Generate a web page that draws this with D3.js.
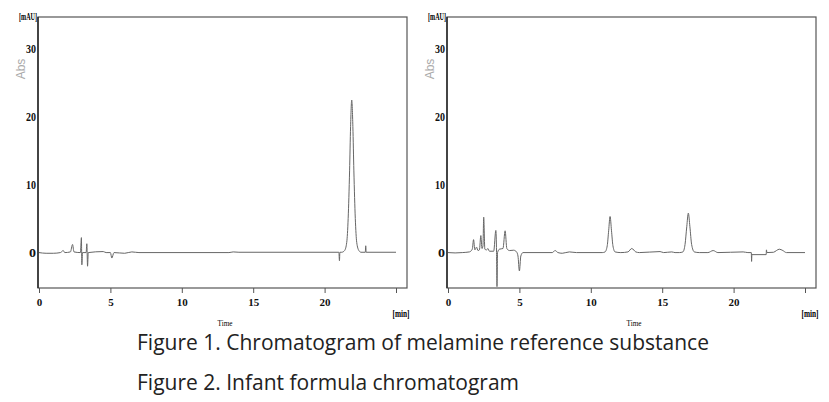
<!DOCTYPE html>
<html>
<head>
<meta charset="utf-8">
<script src="https://cdn.jsdelivr.net/npm/d3@7/dist/d3.min.js"></script>
<style>
  body { margin: 0; background: #fff; }
  svg { display: block; }
  .tick text { font-family: "Liberation Serif", serif; font-weight: bold; fill: #111; }
</style>
</head>
<body>
<div id="chart"></div>
<script>
// Tick labels
var xTicks = [0, 5, 10, 15, 20, 25];
var xTickLabels = ['0', '5', '10', '15', '20', ''];
var yTicks = [0, 10, 20, 30];
var yTickLabels = ['0', '10', '20', '30'];

// Figure 1: melamine reference substance (time in min, absorbance in mAU)
var refTime = [0, 0.5, 1.0, 1.5, 1.7, 1.8, 2.2, 2.35, 2.45, 2.9, 2.97, 3.0, 3.05,
  3.3, 3.35, 3.4, 3.45, 4.5, 4.7, 5.0, 5.1, 5.25, 6.0, 6.5, 7.0, 13.3, 13.6, 14.0,
  21.0, 21.04, 21.07, 21.2, 21.4, 21.55, 21.65, 21.75, 21.82, 21.9, 21.98, 22.05,
  22.15, 22.25, 22.4, 22.55, 22.85, 22.88, 22.91, 25];
var refAbs = [0, -0.1, -0.1, 0, 0.3, 0, 0.1, 1.2, 0.1, 0, 2.2, -1.8, 0,
  0, 1.3, -2.0, 0, 0.15, 0, 0, -0.8, 0, -0.1, 0.1, 0, 0, 0.1, 0.05,
  0.05, -1.2, 0.05, 0.05, 0.3, 1.5, 5, 12, 18.5, 22.4, 18.5, 12,
  5, 1.5, 0.3, 0.05, 0.05, 1.0, 0.05, 0.05];

// Figure 2: infant formula sample
var sampleTime = [0, 0.5, 1.0, 1.5, 1.7, 1.79, 1.88, 2.0, 2.1, 2.2, 2.3, 2.38, 2.45,
  2.5, 2.58, 2.7, 2.8, 2.9, 3.2, 3.35, 3.4, 3.43, 3.47, 3.6, 3.85, 4.0, 4.12, 4.3,
  4.6, 4.8, 4.9, 5.0, 5.1, 5.25, 7.3, 7.5, 7.7, 8.0, 8.5, 9.0, 10.8, 11.0, 11.15,
  11.25, 11.35, 11.45, 11.55, 11.7, 12.1, 12.6, 12.87, 13.15, 13.4, 14.85, 15.1,
  15.67, 15.9, 16.2, 16.45, 16.6, 16.72, 16.83, 16.94, 17.06, 17.25, 17.6, 18.2,
  18.57, 18.9, 20.67, 21.0, 21.24, 21.26, 21.28, 22.28, 22.3, 22.33, 22.8, 23.0,
  23.2, 23.45, 23.7, 25];
var sampleAbs = [0, -0.05, 0, 0.1, 0.5, 1.9, 0.4, 0.8, 0.3, 0.4, 2.5, 0.6, 1.0,
  5.2, 0.5, 0.4, 0.6, 0.2, 0.2, 3.25, 0, -5.0, 0, 0.5, 0.6, 3.2, 0.6, 0.3,
  0.35, 0.1, -0.5, -2.7, -0.5, 0, 0, 0.3, 0, -0.1, 0.1, 0, 0, 0.1, 1.0,
  3.2, 5.3, 3.2, 1.0, 0.1, 0, 0.1, 0.6, 0.1, 0, 0.15, 0,
  0.1, 0, 0, 0.1, 1.2, 3.8, 5.8, 3.8, 1.2, 0.1, 0, 0,
  0.3, 0, 0.1, 0, 0, -1.3, -0.3, -0.3, 0.4, 0, 0.05, 0.3,
  0.5, 0.3, 0, 0];

var captions = [
  'Figure 1. Chromatogram of melamine reference substance',
  'Figure 2. Infant formula chromatogram'
];

var WIDTH = 829;
var HEIGHT = 402;
var PANEL_W = 369;
var PANEL_H = 271;

var svg = d3.select('#chart').append('svg')
  .attr('width', WIDTH)
  .attr('height', HEIGHT);

// Draws one chromatogram frame with its axes and trace
function drawPanel(left, top, times, values) {
  var g = svg.append('g').attr('transform', 'translate(' + left + ',' + top + ')');

  var x = d3.scaleLinear().domain([0, 25]).range([1, 358]);
  var y = d3.scaleLinear().domain([-5.2, 34.6]).range([PANEL_H, 0]);

  // x axis below the frame
  var xAxis = g.append('g')
    .attr('transform', 'translate(0,' + PANEL_H + ')')
    .call(d3.axisBottom(x)
      .tickValues(xTicks)
      .tickSize(5)
      .tickPadding(5)
      .tickFormat(function(d, i) { return xTickLabels[i]; }));
  xAxis.select('.domain').remove();
  xAxis.selectAll('.tick line').attr('stroke', '#555');
  xAxis.selectAll('.tick text').attr('font-size', 11);

  // y axis labels inside the left edge
  var yAxis = g.append('g')
    .call(d3.axisLeft(y)
      .tickValues(yTicks)
      .tickSize(0)
      .tickPadding(2)
      .tickFormat(function(d, i) { return yTickLabels[i]; }));
  yAxis.select('.domain').remove();
  yAxis.selectAll('.tick text').attr('font-size', 12)
    .attr('textLength', function(d, i) { return yTickLabels[i].length > 1 ? 10 : 7; })
    .attr('lengthAdjust', 'spacingAndGlyphs');

  // frame
  g.append('rect')
    .attr('width', PANEL_W)
    .attr('height', PANEL_H)
    .attr('fill', 'none')
    .attr('stroke', '#555')
    .attr('stroke-width', 1.2);
  g.append('line')
    .attr('y2', PANEL_H)
    .attr('stroke', '#222')
    .attr('stroke-width', 1.4);

  // trace
  var line = d3.line()
    .x(function(d) { return x(d[0]); })
    .y(function(d) { return y(d[1]); })
    .curve(d3.curveMonotoneX);

  g.append('path')
    .datum(d3.zip(times, values))
    .attr('d', line)
    .attr('fill', 'none')
    .attr('stroke', '#666')
    .attr('stroke-width', 1);

  // unit labels
  g.append('text')
    .attr('x', -1)
    .attr('y', 3)
    .attr('text-anchor', 'end')
    .attr('font-family', 'Liberation Serif, serif')
    .attr('font-weight', 'bold')
    .attr('font-size', 11)
    .attr('textLength', 18)
    .attr('lengthAdjust', 'spacingAndGlyphs')
    .text('[mAU]');

  g.append('text')
    .attr('transform', 'translate(-13,' + 52 + ') rotate(-90)')
    .attr('text-anchor', 'middle')
    .attr('font-family', 'Liberation Sans, Arial, sans-serif')
    .attr('font-size', 12)
    .attr('fill', '#aaa')
    .text('Abs');

  g.append('text')
    .attr('x', 363)
    .attr('y', 29 + PANEL_H)
    .attr('text-anchor', 'middle')
    .attr('font-family', 'Liberation Serif, serif')
    .attr('font-weight', 'bold')
    .attr('font-size', 10)
    .attr('textLength', 17)
    .attr('lengthAdjust', 'spacingAndGlyphs')
    .text('[min]');

  g.append('text')
    .attr('x', 187)
    .attr('y', 38 + PANEL_H)
    .attr('text-anchor', 'middle')
    .attr('font-family', 'Liberation Serif, serif')
    .attr('font-size', 9)
    .attr('textLength', 15)
    .attr('lengthAdjust', 'spacingAndGlyphs')
    .text('Time');
}

drawPanel(38, 17, refTime, refAbs);
drawPanel(447, 17, sampleTime, sampleAbs);

// captions under the charts
svg.selectAll('.caption')
  .data(captions)
  .enter()
  .append('text')
  .attr('class', 'caption')
  .attr('x', 137)
  .attr('y', function(d, i) { return 350 + i * 40; })
  .attr('font-family', 'Open Sans, sans-serif')
  .attr('font-size', 21)
  .attr('fill', '#222')
  .text(function(d) { return d; });
</script>
</body>
</html>
